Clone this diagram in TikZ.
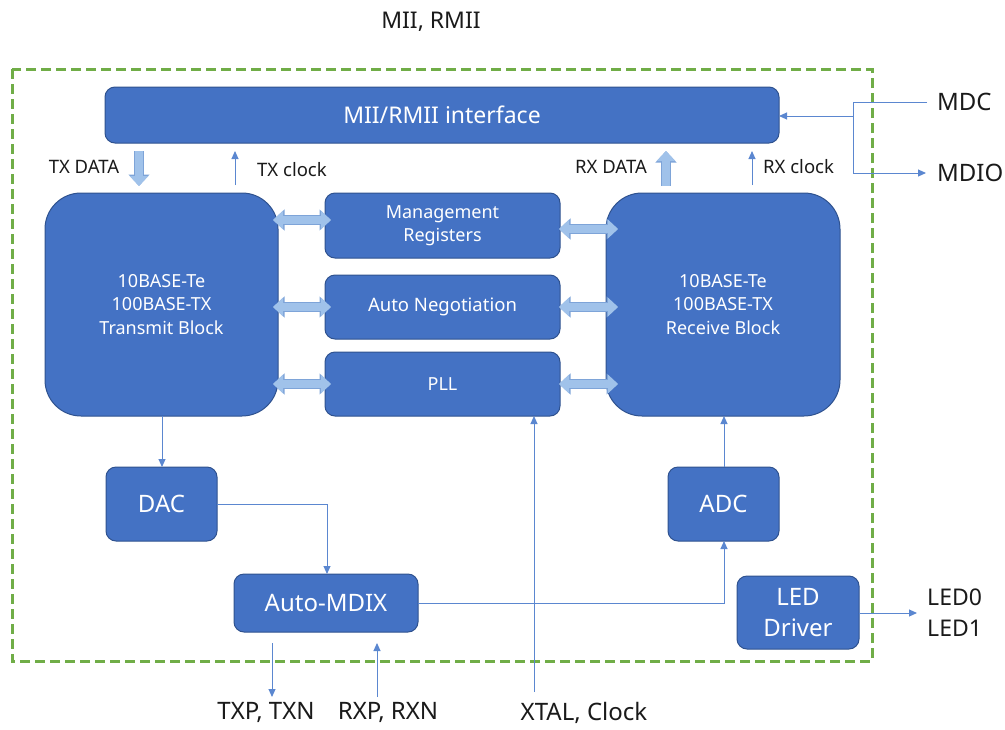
\documentclass[tikz,border=0pt]{standalone}
\usepackage{fontspec}
\setmainfont{Noto Sans}
\usetikzlibrary{arrows.meta}
\definecolor{boxblue}{HTML}{4472C4}
\definecolor{boxedge}{HTML}{2F528F}
\definecolor{fatblue}{HTML}{A0C2EA}
\definecolor{fatedge}{HTML}{7EA4D8}
\definecolor{lineblue}{HTML}{5B87D0}
\definecolor{dashgreen}{HTML}{70AD47}
\definecolor{labelcol}{HTML}{1A1A1A}
\begin{document}
\begin{tikzpicture}[x=1pt,y=-1pt,
  blk/.style={draw=boxedge,fill=boxblue,line width=1pt,text=white,inner sep=0pt,outer sep=0pt,align=center,rounded corners=10pt},
  bigblk/.style={blk,rounded corners=36pt},
  lbl/.style={text=labelcol,inner sep=0pt,align=left},
  thinarr/.style={draw=lineblue,line width=1pt,-{Triangle[width=7pt,length=8pt]}},
  thinln/.style={draw=lineblue,line width=1pt},
  fatarr/.style={preaction={draw=fatedge,line width=10pt,-{Triangle[width=20.5pt,length=11.5pt]}},draw=fatblue,line width=8pt,-{Triangle[width=18pt,length=10pt]}},
  fatdbl/.style={preaction={draw=fatedge,line width=10pt,{Triangle[width=20.5pt,length=11.5pt]}-{Triangle[width=20.5pt,length=11.5pt]}},draw=fatblue,line width=8pt,{Triangle[width=18pt,length=10pt]}-{Triangle[width=18pt,length=10pt]}},
  big/.style={font=\fontsize{24}{28}\selectfont},
  mid/.style={font=\fontsize{18.5}{24}\selectfont},
  small/.style={font=\fontsize{18}{23.5}\selectfont},
  lblfont/.style={font=\fontsize{18.5}{23}\selectfont}
]
\useasboundingbox (0,0) rectangle (1005,729);
% boundary
\draw[dashgreen,line width=3pt,dash pattern=on 10pt off 5pt] (12,69) rectangle (872,661);
% blocks
\node[blk,minimum width=674pt,minimum height=56pt,font=\fontsize{23}{26}\selectfont] (mii) at (442,115) {MII/RMII interface};
\node[bigblk,minimum width=233pt,minimum height=223pt,small] (tx) at (161.5,304.5) {10BASE-Te\\100BASE-TX\\Transmit Block};
\node[bigblk,minimum width=234pt,minimum height=223pt,small] (rx) at (723,304.5) {10BASE-Te\\100BASE-TX\\Receive Block};
\node[blk,minimum width=235pt,minimum height=65pt,small] (mgmt) at (442.5,225.5) {Management\\Registers};
\node[blk,minimum width=235pt,minimum height=64pt,mid] (an) at (442.5,307) {Auto Negotiation};
\node[blk,minimum width=235pt,minimum height=64pt,small] (pll) at (442.5,384) {PLL};
\node[blk,minimum width=111pt,minimum height=74pt,big] (dac) at (161.5,504) {DAC};
\node[blk,minimum width=111pt,minimum height=74pt,big] (adc) at (723.5,504) {ADC};
\node[blk,minimum width=184pt,minimum height=58pt,big] (mdix) at (326,603) {Auto-MDIX};
\node[blk,minimum width=122pt,minimum height=73pt,font=\fontsize{24}{31}\selectfont] (led) at (798,612.5) {LED\\Driver};
% labels
\node[lbl,font=\fontsize{23}{26}\selectfont] (title) at (431,22) {MII, RMII};
\node[lbl,lblfont,anchor=center] (txdl) at (84,167) {TX DATA};
\node[lbl,lblfont,anchor=west] (txcl) at (257,170) {TX clock};
\node[lbl,lblfont,anchor=east] (rxdl) at (647,167) {RX DATA};
\node[lbl,lblfont,anchor=west] (rxcl) at (763,167) {RX clock};
\node[lbl,big,anchor=west] (mdc) at (937,102) {MDC};
\node[lbl,big,anchor=west] (mdio) at (937,173) {MDIO};
\node[lbl,anchor=west,font=\fontsize{23}{31}\selectfont] (leds) at (927,613) {LED0\\LED1};
\node[lbl,big] (txp) at (266,712) {TXP, TXN};
\node[lbl,big] (rxp) at (388,712) {RXP, RXN};
\node[lbl,big] (xtal) at (584,713) {XTAL, Clock};
% helper coordinates
\coordinate (x139) at (139,0);
\coordinate (x235) at (235,0);
\coordinate (x666) at (666,0);
\coordinate (x752) at (752,0);
\coordinate (x162) at (162,0);
\coordinate (x327) at (327,0);
\coordinate (x724) at (724,0);
\coordinate (x534) at (534,0);
\coordinate (x272) at (272,0);
\coordinate (x377) at (377,0);
\coordinate (y220) at (0,220);
\coordinate (y229) at (0,229);
\coordinate (mdcbend) at (853,102);
\coordinate (mdiobend) at (853,173);
\coordinate (mdcjoin) at (853,116);
\coordinate (txend) at (272,697);
\coordinate (rxstart) at (377,697);
\coordinate (xtalstart) at (534,692);
% fat arrows
\draw[fatarr,shorten <=8pt,shorten >=7pt] (mii.south -| x139) -- (tx.north -| x139);
\draw[fatarr,shorten <=7pt,shorten >=8pt] (rx.north -| x666) -- (mii.south -| x666);
\draw[fatdbl] ([xshift=-5pt]tx.east |- y220) -- ([xshift=6pt]mgmt.west |- y220);
\draw[fatdbl] ([xshift=-5pt]tx.east |- an.west) -- ([xshift=6pt]an.west);
\draw[fatdbl] ([xshift=-5pt]tx.east |- pll.west) -- ([xshift=6pt]pll.west);
\draw[fatdbl] ([xshift=-1pt]mgmt.east |- y229) -- ([xshift=12pt]rx.west |- y229);
\draw[fatdbl] ([xshift=-1pt]an.east) -- ([xshift=12pt]rx.west |- an.east);
\draw[fatdbl] ([xshift=-1pt]pll.east) -- ([xshift=12pt]rx.west |- pll.east);
% thin arrows
\draw[thinarr,shorten <=8pt,shorten >=8pt] (tx.north -| x235) -- (mii.south -| x235);
\draw[thinarr,shorten <=8pt,shorten >=8pt] (rx.north -| x752) -- (mii.south -| x752);
\draw[thinln] ([xshift=-10pt]mdc.west) -- (mdcbend) -- (mdiobend);
\draw[thinarr] (mdiobend) -- ([xshift=-11pt]mdio.west);
\draw[thinarr] (mdcjoin) -- (mii.east |- mdcjoin);
\draw[thinarr] (tx.south -| x162) -- (dac.north -| x162);
\draw[thinarr] (dac.east) -| (mdix.north -| x327);
\draw[thinarr] (mdix.east) -| (adc.south -| x724);
\draw[thinarr] (adc.north -| x724) -- (rx.south -| x724);
\draw[thinarr] (xtalstart) -- (pll.south -| x534);
\draw[thinarr,shorten <=11pt] (mdix.south -| x272) -- (txend);
\draw[thinarr,shorten >=11pt] (rxstart) -- (mdix.south -| x377);
\draw[thinarr] (led.east |- leds.west) -- ([xshift=-10pt]leds.west);
\end{tikzpicture}
\end{document}
